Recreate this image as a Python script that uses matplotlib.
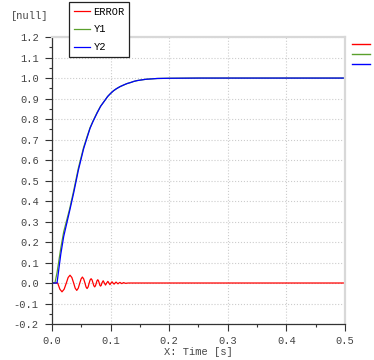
import matplotlib
matplotlib.use('Agg')
import matplotlib.pyplot as plt
from matplotlib.lines import Line2D
from matplotlib.ticker import MultipleLocator, FormatStrFormatter

plt.rcParams['font.family'] = ['Liberation Mono', 'DejaVu Sans Mono']
plt.rcParams['font.size'] = 7.5

# step responses
t = [0, 0.005, 0.0086, 0.015, 0.02, 0.03, 0.037, 0.045, 0.054, 0.06, 0.065, 0.07, 0.077,
     0.083, 0.09, 0.095, 0.1, 0.105, 0.11, 0.116, 0.123, 0.128, 0.135, 0.14, 0.146,
     0.153, 0.16, 0.17, 0.18, 0.2, 0.25, 0.3, 0.4, 0.5]
y1 = [0, 0, 0.05, 0.17, 0.25, 0.36, 0.45, 0.56, 0.662, 0.715, 0.758, 0.79, 0.832,
      0.863, 0.89, 0.91, 0.925, 0.938, 0.948, 0.958, 0.967, 0.973, 0.979, 0.984, 0.988,
      0.991, 0.994, 0.996, 0.998, 0.999, 1.0, 1.0, 1.0, 1.0]
y2 = [0, 0, 0, 0.14, 0.227, 0.35, 0.439, 0.55, 0.655, 0.71, 0.755, 0.788, 0.829,
      0.862, 0.89, 0.91, 0.925, 0.938, 0.948, 0.958, 0.967, 0.973, 0.979, 0.984, 0.988,
      0.991, 0.994, 0.996, 0.998, 0.999, 1.0, 1.0, 1.0, 1.0]

# error trace (decaying ringing), read point by point
t_err = [0, 0.0097, 0.0134, 0.0171, 0.0208, 0.0245,
         0.0276, 0.0308, 0.0339, 0.037,
         0.0396, 0.0423, 0.0449, 0.0475,
         0.0497, 0.0519, 0.0541, 0.0563,
         0.0581, 0.0599, 0.0617, 0.0635,
         0.0651, 0.0668, 0.0684, 0.070,
         0.0714, 0.0729, 0.0743, 0.0757,
         0.0769, 0.0782, 0.0794, 0.0806,
         0.0818, 0.0829, 0.0841, 0.0852,
         0.0874, 0.0894, 0.0914, 0.0934, 0.0954, 0.0972, 0.099, 0.1008, 0.1025, 0.1042,
         0.106, 0.1077, 0.1094, 0.111, 0.1127, 0.1143, 0.116, 0.1176, 0.1192, 0.1208,
         0.1225, 0.124, 0.1256, 0.13, 0.5]
err = [0, 0, -0.030, -0.043, -0.030, 0,
       0.027, 0.038, 0.027, 0,
       -0.025, -0.036, -0.025, 0,
       0.020, 0.029, 0.020, 0,
       -0.019, -0.027, -0.019, 0,
       0.015, 0.021, 0.015, 0,
       -0.013, -0.019, -0.013, 0,
       0.011, 0.016, 0.011, 0,
       -0.011, -0.015, -0.011, 0,
       0.011, 0, -0.010, 0, 0.008, 0, -0.008, 0, 0.006, 0,
       -0.0055, 0, 0.0045, 0, -0.004, 0, 0.003, 0, -0.003, 0,
       0.002, 0, -0.0015, 0, 0]

c_err = '#ff0000'
c_y1 = '#5aa02c'
c_y2 = '#0000ff'

fig = plt.figure(figsize=(3.74, 3.6), dpi=100)
ax = fig.add_axes([0.139, 0.1, 0.783, 0.797])

l0, = ax.plot(t_err, err, color=c_err, lw=0.9, label='ERROR', solid_joinstyle='round')
l1, = ax.plot(t, y1, color=c_y1, lw=0.9, label='Y1', solid_joinstyle='round')
l2, = ax.plot(t, y2, color=c_y2, lw=0.9, label='Y2', solid_joinstyle='round')

ax.set_xlim(0, 0.5)
ax.set_ylim(-0.2, 1.2)
ax.xaxis.set_major_locator(MultipleLocator(0.1))
ax.xaxis.set_minor_locator(MultipleLocator(0.05))
ax.yaxis.set_major_locator(MultipleLocator(0.1))
ax.yaxis.set_minor_locator(MultipleLocator(0.05))
ax.xaxis.set_major_formatter(FormatStrFormatter('%.1f'))
ax.yaxis.set_major_formatter(FormatStrFormatter('%.1f'))
ax.tick_params(which='major', direction='out', length=5, width=0.8, colors='#333333', labelcolor='#444444')
ax.tick_params(which='minor', direction='out', length=2.5, width=0.8, colors='#333333')
ax.tick_params(axis='y', which='major', pad=4.5)
ax.tick_params(axis='x', which='major', pad=3.5)
ax.grid(True, which='major', ls=':', lw=0.8, color='#cccccc')

for s in ['left', 'bottom']:
    ax.spines[s].set_color('#333333')
    ax.spines[s].set_linewidth(0.9)
for s in ['top', 'right']:
    ax.spines[s].set_color('#d8d8d8')
    ax.spines[s].set_linewidth(1.6)

ax.set_xlabel('X: Time [s]', labelpad=1, color='#444444')
fig.text(0.078, 1 - 16 / 360, '[null]', ha='center', va='center', color='#444444')

leg = fig.legend(handles=[l0, l1, l2], loc='upper left', bbox_to_anchor=(69 / 374, 1 - 2 / 360),
                 fancybox=False, edgecolor='#222222', framealpha=1, handlelength=1.6,
                 handletextpad=0.3, labelspacing=0.75, borderpad=0.45, borderaxespad=0)
leg.get_frame().set_linewidth(0.9)

side = [Line2D([], [], color=c, lw=1.0) for c in (c_err, c_y1, c_y2)]
fig.legend(handles=side, labels=['', '', ''], loc='upper left', bbox_to_anchor=(350 / 374, 1 - 39 / 360),
           frameon=False, prop={'size': 5}, handlelength=2.6, handletextpad=0, labelspacing=0.45,
           borderpad=0.3, borderaxespad=0)

fig.savefig('out.png', dpi=100)
